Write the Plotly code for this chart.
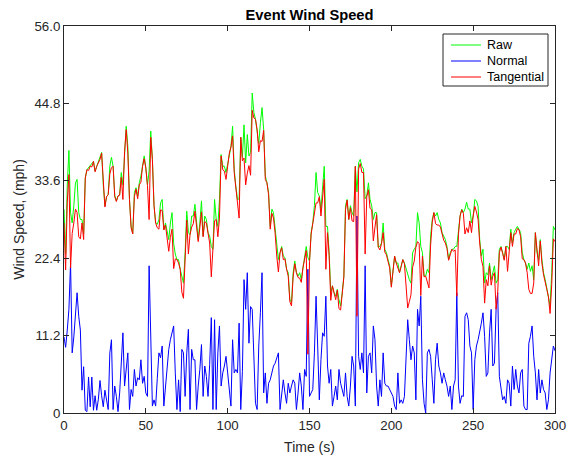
import plotly.graph_objects as go

# Sample times (s)
time_s = list(range(0, 301))

# Raw wind speed (mph)
raw = [
    29.5, 23, 33, 38, 29, 27.5, 30, 33.3, 33.8, 29,
    28, 28, 26, 34, 35.2, 35.5, 35.7, 36, 36.4, 35,
    35.7, 36.3, 37, 37.7, 33, 30, 31.3, 31.6, 35.7, 37,
    35.7, 31.5, 30.7, 31.4, 31.6, 34.8, 33, 38, 41.5, 38.6,
    30.9, 27, 26, 31.9, 32.6, 31.4, 33.3, 34.3, 36, 37.2,
    35.5, 33, 35, 40.8, 36.7, 30, 27.5, 27.3, 28, 30.4,
    30.9, 26.5, 27.5, 26, 25.1, 27.5, 29, 24.5, 23, 22.2,
    22.2, 20.8, 19.8, 18.8, 23.2, 29.2, 26.1, 25.8, 28.5, 28.5,
    30.2, 27, 25.1, 27.5, 30.7, 25.6, 28.5, 28, 26.1, 25.6,
    24.1, 23.7, 30.9, 28, 27, 30.9, 37.4, 35.7, 35.7, 34.8,
    36.2, 37.7, 38.5, 41.5, 35.3, 32.8, 30.9, 31, 39.9, 37,
    41.7, 36.2, 40.3, 37.2, 37.7, 46.3, 43.5, 42.5, 41, 39,
    42, 44.2, 41, 34.3, 33.3, 31.9, 27, 29.5, 29, 27,
    24.1, 22.2, 23.2, 24.1, 22.7, 22.5, 20.8, 20.3, 16.4, 16,
    20.3, 22, 20.3, 19.8, 20.3, 19.3, 21, 23, 24.1, 22.5,
    22, 26.1, 27.5, 30, 34.8, 31.9, 31.4, 29.5, 33.3, 35.7,
    27, 27, 23.2, 17.4, 18.4, 17.4, 16.9, 17.9, 16.4, 15.5,
    17.4, 19.8, 30, 30.9, 28, 30, 29, 28.5, 35.7, 32,
    36.2, 36.7, 35.7, 35.3, 31, 31.4, 33.3, 30.9, 30, 28,
    29, 29, 24, 24.1, 24.6, 27.5, 23.7, 23.2, 22.2, 21.3,
    18.4, 20.3, 22.7, 21.7, 21.7, 20.3, 21.3, 22.2, 21.7, 20.8,
    20.3, 19.3, 18.8, 23.2, 23.7, 24.1, 29, 27.5, 24.1, 23.2,
    19.8, 19.8, 20.8, 20.3, 25.6, 28, 29, 28.5, 29, 28,
    27.5, 26.1, 25.6, 25.1, 24.1, 22.2, 23.2, 23.7, 23.7, 24.1,
    24.1, 26.1, 28.5, 29.5, 29, 29.5, 30.5, 29.5, 29.5, 27.5,
    28.5, 30.9, 30.7, 29.9, 25.1, 22.7, 23.7, 18.8, 20.3, 20,
    21.7, 19.3, 20.3, 21.3, 18.8, 19.3, 23.7, 24.1, 23.2, 22.2,
    24.1, 24.1, 23.7, 26.6, 24.6, 26.1, 26.6, 27, 26.6, 26.1,
    23.2, 22.2, 21.7, 20.8, 21.7, 20.5, 21.3, 19.3, 26.1, 23.2,
    22.2, 25.1, 22.2, 20.3, 19.3, 17.9, 16.9, 15.5, 20.3, 27,
    26.5,
]

# Normal component (mph)
normal = [
    11, 9.5, 12, 15, 21.7, 8.7, 11, 15, 17.4, 14,
    12, 3.3, 6.7, 0.4, 0.2, 5.2, 0.9, 5.2, 0.4, 2.5,
    0.4, 2, 4.7, 2.5, 0.9, 3.3, 1.5, 0.5, 8.7, 10.6,
    0.5, 3.9, 2.4, 0.2, 2.9, 7, 11.6, 3.9, 6, 8.7,
    0.5, 3.4, 2.4, 6.3, 3.9, 5.1, 4.8, 7.7, 4.3, 5.3,
    2.9, 2.4, 21.3, 8.7, 1, 1.9, 1, 5, 8.7, 8,
    9.7, 1, 3.9, 7.2, 9.2, 10.6, 11.6, 12.6, 5.8, 0.5,
    4.8, 0.2, 9.2, 8.7, 2.4, 8.7, 12.1, 0.5, 9.2, 7.7,
    7.7, 0.5, 3.9, 6.3, 9.9, 2.4, 6.8, 5.3, 2.4, 7,
    13.8, 0.5, 13.5, 0.5, 8.7, 12.6, 3.9, 5.8, 6.8, 8.2,
    5.8, 2.9, 1, 10.6, 5.8, 6.3, 5.8, 13, 0.5, 6,
    19.3, 15, 20.3, 10.1, 15.4, 15, 8.2, 1.4, 0.5, 9.7,
    14.5, 20.3, 2.9, 5.8, 1.4, 4.3, 4.8, 5.8, 6.8, 7.2,
    8, 8.7, 0.5, 2.9, 4.8, 2.9, 1.4, 4.3, 2.9, 3.9,
    4.8, 4.3, 0.5, 2.9, 5.8, 3.9, 0.5, 6.3, 5.3, 20.8,
    2.4, 2.9, 3.4, 8.7, 16.9, 9.7, 1.9, 7.7, 11.6, 11.1,
    16.9, 6.8, 4.3, 6.3, 1, 2.4, 3.9, 1.9, 6.3, 4.3,
    3.4, 2.4, 5.8, 2.4, 1, 3.9, 8.2, 6.8, 1, 28.5,
    8.2, 6.3, 8.7, 5.8, 21.3, 2.9, 8.2, 8.7, 5.8, 12.6,
    10.6, 3.9, 1, 4.8, 2.4, 8.7, 4.3, 3.9, 3.9, 3.4,
    2.9, 2.4, 1, 0.5, 5.8, 1.4, 1.9, 1.4, 2.4, 8.7,
    13.5, 10.6, 7.7, 9.7, 8.7, 1.9, 15, 12.6, 16.9, 4.8,
    1.4, 0, 8.7, 9.2, 8.2, 4.8, 1.4, 7.7, 10.1, 6.8,
    5.8, 4.3, 5.8, 4.8, 3.9, 2.4, 3.9, 0.5, 3.9, 4.8,
    17.4, 3.9, 1.4, 2.5, 2.4, 14, 14.5, 13.5, 9.7, 8.7,
    0.5, 7.7, 9.7, 10.6, 11.6, 13, 14.5, 11.1, 5.3, 5.8,
    11.6, 15, 6.8, 7.2, 15, 17.4, 5.3, 3.9, 1.9, 2.4,
    1.4, 4.8, 4.3, 1, 6.8, 3.4, 6.3, 3.9, 2.9, 5.8,
    6.3, 1, 0.5, 0.5, 10.1, 11.1, 12.6, 8.2, 5.8, 1.9,
    6.3, 2.9, 4.8, 3.4, 2.9, 0.5, 1.9, 5.8, 8.2, 9.7,
    9,
]

# Tangential component (mph)
tangential = [
    27.5, 20.7, 30.5, 34.5, 21, 26, 27.5, 29.5, 29, 25.5,
    25.2, 27.5, 25.1, 34, 35.2, 35.1, 35.7, 35.6, 36.4, 34.9,
    35.7, 36.2, 36.7, 37.6, 33, 29.8, 31.3, 31.6, 34.6, 35.5,
    35.7, 31.3, 30.6, 31.4, 31.5, 34.1, 30.9, 37.8, 41, 37.6,
    30.9, 26.8, 25.9, 31.3, 32.4, 31, 33, 33.4, 35.7, 36.8,
    35.4, 32.9, 28, 39.9, 36.7, 30, 27.5, 26.8, 26.6, 29.4,
    29.3, 26.5, 27.2, 25, 23.4, 25.4, 26.6, 20.9, 22.3, 22.2,
    21.7, 20.8, 17.5, 16.6, 23.1, 27.9, 23, 25.8, 26.9, 27.4,
    29.2, 27, 24.8, 26.8, 29.1, 25.5, 27.7, 27.5, 26, 24.6,
    19.7, 23.7, 27.8, 28, 25.5, 28.2, 37.2, 35.2, 35, 33.8,
    35.7, 37.6, 38.5, 40.1, 34.8, 32.2, 30.4, 28.2, 39.9, 36.5,
    36.9, 33, 34.7, 35.8, 34.4, 43.8, 42.7, 42.5, 41, 37.8,
    39.4, 39.3, 40.9, 33.8, 33.3, 31.6, 26.6, 28.9, 28.2, 26,
    22.7, 20.4, 23.2, 23.9, 22.2, 22.3, 20.8, 19.8, 16.1, 15.5,
    19.7, 21.6, 20.3, 19.6, 19.5, 18.9, 21, 22.1, 23.5, 8.5,
    21.9, 25.9, 27.3, 28.7, 30.4, 30.4, 31.3, 28.5, 31.2, 33.8,
    20.8, 26.1, 22.8, 16.3, 18.4, 17.2, 16.4, 17.8, 15.1, 14.9,
    17.1, 19.7, 29.4, 30.8, 28, 29.7, 27.8, 27.7, 35.7, 14,
    35.3, 36.1, 34.8, 34.8, 23, 31.3, 32.3, 29.6, 29.4, 24.9,
    26.9, 28.7, 24, 23.6, 24.5, 26.1, 23.3, 22.9, 21.9, 21,
    18.2, 20.2, 22.7, 21.7, 20.9, 20.3, 21.2, 22.2, 21.6, 18.9,
    15.2, 16.1, 17.1, 21.1, 22, 24, 24.8, 24.5, 17, 22.7,
    19.7, 19.8, 18.9, 18.1, 24.3, 27.6, 29, 27.4, 27.2, 27.2,
    26.9, 25.7, 25, 24.6, 23.8, 22.1, 22.9, 23.7, 23.4, 23.6,
    16.9, 25.8, 28.5, 29.4, 28.9, 25.9, 26.8, 26.1, 27.8, 26.1,
    28.5, 29.9, 29.1, 28, 24.6, 22.2, 21.2, 15.9, 19.3, 18.4,
    21.3, 18.5, 19.8, 20.3, 15, 17.5, 23.2, 24, 23.1, 22.1,
    24.1, 20.5, 23.3, 26.1, 24.1, 25.9, 25.9, 26.7, 26.5, 25.5,
    22.3, 22.2, 21.7, 20.3, 17.9, 17.3, 17.3, 18.8, 26.1, 23.1,
    21.3, 24.9, 21.7, 20, 19.1, 17.9, 16.8, 14.4, 18.6, 25.2,
    24.8,
]

x_ticks = [0, 50, 100, 150, 200, 250, 300]
y_ticks = [0, 11.2, 22.4, 33.6, 44.8, 56.0]
y_tick_text = ["0", "11.2", "22.4", "33.6", "44.8", "56.0"]

series_names = ["Raw", "Normal", "Tangential"]
series_colors = ["#00ff00", "#0000ff", "#ff0000"]

FONT = "Liberation Sans, Arial, Helvetica, sans-serif"
AXIS_COLOR = "#262626"

W, H = 568, 459
M_L, M_R, M_T, M_B = 64, 13, 26, 46
PLOT_W = W - M_L - M_R
PLOT_H = H - M_T - M_B


def px_x(px):
    """Pixel column -> paper x."""
    return (px - M_L) / PLOT_W


def px_y(py):
    """Pixel row (from top) -> paper y."""
    return (H - M_B - py) / PLOT_H


fig = go.Figure()
for name, color, values in zip(series_names, series_colors, [raw, normal, tangential]):
    fig.add_trace(go.Scatter(x=time_s, y=values, mode="lines", name=name,
                             line=dict(color=color, width=1), showlegend=False))

axis_common = dict(
    showgrid=False, zeroline=False, showline=True, mirror="allticks",
    linecolor=AXIS_COLOR, linewidth=1, ticks="inside", ticklen=5,
    tickcolor=AXIS_COLOR, tickwidth=1, automargin=False,
    tickfont=dict(family=FONT, size=13.3, color=AXIS_COLOR),
)

fig.update_xaxes(range=[0, 300], tickvals=x_ticks,
                 title=dict(text="Time (s)", font=dict(family=FONT, size=14, color=AXIS_COLOR), standoff=10),
                 **axis_common)
fig.update_yaxes(range=[0, 56], tickvals=y_ticks, ticktext=y_tick_text,
                 title=dict(text="Wind Speed, (mph)", font=dict(family=FONT, size=14, color=AXIS_COLOR), standoff=6),
                 **axis_common)

# Legend box drawn in the upper-right corner of the axes
shapes = [dict(type="rect", xref="paper", yref="paper",
               x0=px_x(443), x1=px_x(548), y0=px_y(86), y1=px_y(34),
               line=dict(color=AXIS_COLOR, width=1), fillcolor="white", layer="above")]
annotations = []
row_y = [45, 61, 77]
for name, color, ry in zip(series_names, series_colors, row_y):
    shapes.append(dict(type="line", xref="paper", yref="paper",
                       x0=px_x(451), x1=px_x(481), y0=px_y(ry), y1=px_y(ry),
                       line=dict(color=color, width=1), layer="above"))
    annotations.append(dict(text=name, xref="paper", yref="paper",
                            x=px_x(485), y=px_y(ry), xanchor="left", yanchor="middle",
                            showarrow=False, font=dict(family=FONT, size=12.5, color="black")))

fig.update_layout(
    width=W, height=H,
    margin=dict(l=M_L, r=M_R, t=M_T, b=M_B),
    paper_bgcolor="white", plot_bgcolor="white",
    title=dict(text="<b>Event Wind Speed</b>", x=0.5, xref="paper", xanchor="center",
               y=1 - 15 / H, yref="container", yanchor="middle",
               font=dict(family=FONT, size=14.7, color="black")),
    shapes=shapes,
    annotations=annotations,
    showlegend=False,
)

fig.write_html("out.html")
